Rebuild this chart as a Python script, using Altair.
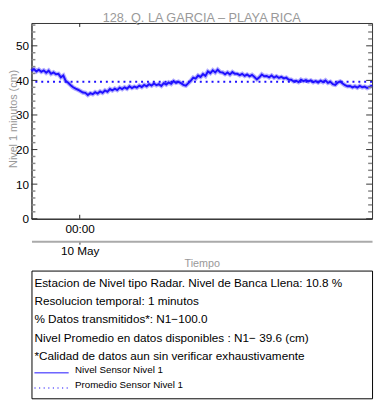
import altair as alt
import pandas as pd

# ---------------- data ----------------
chart_title = "128. Q. LA GARCIA \u2013 PLAYA RICA"
y_title = "Nivel 1 minutos (cm)"
x_title = "Tiempo"
start_time = "2024-05-09T20:36:00"
end_time = "2024-05-10T20:36:00"
midnight = "2024-05-10T00:00:00"

levels = [
    42.7, 43.3, 42.6, 43.1, 42.5, 42.9, 42.2, 42.8, 41.9, 42.3, 41.8, 41.9, 40.9, 41.4, 39.8, 39.3,
    38.6, 38.0, 37.6, 37.3, 36.9, 36.5, 36.4, 35.8, 36.3, 36.0, 36.6, 36.2, 36.8, 36.4, 37.1, 36.7,
    37.5, 37.1, 37.6, 37.2, 37.9, 37.5, 38.0, 37.6, 38.3, 37.8, 38.2, 37.9, 38.5, 38.1, 38.7, 38.3,
    38.9, 38.5, 39.1, 38.6, 38.9, 38.4, 39.2, 38.8, 39.4, 39.0, 39.8, 39.3, 39.6, 39.2, 38.7, 38.5,
    39.2, 39.9, 40.8, 40.5, 41.4, 41.0, 41.8, 41.3, 42.6, 42.1, 42.9, 42.3, 43.1, 42.4, 42.3, 41.8,
    42.3, 41.7, 42.4, 41.9, 41.9, 41.5, 41.9, 41.3, 41.7, 41.2, 41.6, 41.0, 40.3, 40.9, 41.7, 41.2,
    41.3, 40.9, 41.4, 40.8, 41.2, 40.7, 41.0, 40.6, 40.8, 40.2, 40.2, 39.7, 39.9, 39.5, 40.2, 39.8,
    40.1, 39.7, 40.0, 39.5, 39.8, 39.4, 39.9, 39.5, 40.0, 39.3, 39.6, 38.9, 38.7, 39.4, 39.7, 39.1,
    38.6, 38.3, 38.4, 38.0, 38.3, 37.9, 38.4, 38.0, 38.2, 37.8, 38.1, 38.6,
]
mean_level = 39.6
y_domain = [0, 56.6]
major_ticks = [0, 10, 20, 30, 40, 50]
minor_ticks = [v for v in range(0, 57, 2) if v % 10 != 0]

info_lines = [
    "Estacion de Nivel tipo Radar. Nivel de Banca Llena: 10.8 %",
    "Resolucion temporal: 1 minutos",
    "% Datos transmitidos*: N1\u2212100.0",
    "Nivel Promedio en datos disponibles : N1\u2212 39.6 (cm)",
    "*Calidad de datos aun sin verificar exhaustivamente",
]
legend_labels = ["Nivel Sensor Nivel 1", "Promedio Sensor Nivel 1"]

# ---------------- build ----------------
FONT = "Liberation Sans"
W, H = 348, 200
BLUE = "#1f10ff"

times = pd.date_range(start_time, end_time, periods=len(levels))
df = pd.DataFrame({"t": times.strftime("%Y-%m-%dT%H:%M:%S"), "v": levels})
mid_df = pd.DataFrame({"t": [midnight]})

xscale = alt.Scale(domain=[start_time, end_time])
yscale = alt.Scale(domain=y_domain, nice=False, zero=False)
yaxis = alt.Axis(values=major_ticks, format="d", ticks=False, labelPadding=3,
                 labelFontSize=12, labelColor="black", labelFont=FONT,
                 domainColor="#333", grid=False, title=None)

def Y(field="v"):
    return alt.Y(f"{field}:Q", scale=yscale, axis=yaxis)

xaxis_main = alt.Axis(orient="bottom", values=[midnight], format="%H:%M", ticks=False,
                      labelPadding=5, labelFontSize=12, labelColor="black", labelFont=FONT,
                      domainColor="#222", grid=False, title=None)

band = alt.Chart(df).mark_line(color=BLUE, strokeWidth=4.5, opacity=0.35).encode(
    x=alt.X("t:T", scale=xscale, axis=None), y=Y())

line = alt.Chart(df).mark_line(color=BLUE, strokeWidth=2).encode(
    x=alt.X("t:T", scale=xscale, axis=xaxis_main), y=Y())

axis2 = alt.Chart(mid_df).mark_point(opacity=0).encode(
    x=alt.X("t:T", scale=xscale,
            axis=alt.Axis(orient="bottom", values=[midnight], format="%d %b", offset=23,
                          domainColor="#aaa", domainWidth=2, tickColor="#333", tickSize=3,
                          labelPadding=2, labelFontSize=12, labelColor="black", labelFont=FONT,
                          grid=False, title=x_title, titleColor="#999", titleFontSize=11,
                          titleFontWeight="normal", titleFont=FONT, titlePadding=1)),
)

mean_rule = alt.Chart(pd.DataFrame({"v": [mean_level]})).mark_rule(
    color=BLUE, strokeWidth=2, strokeDash=[2, 4]).encode(y=Y())

maj_df = pd.DataFrame({"v": major_ticks})
min_df = pd.DataFrame({"v": minor_ticks})
tick_layers = [
    alt.Chart(maj_df).mark_rule(color="#333", strokeWidth=1).encode(
        y=Y(), x=alt.value(0), x2=alt.value(6)),
    alt.Chart(maj_df).mark_rule(color="#333", strokeWidth=1).encode(
        y=Y(), x=alt.value(W), x2=alt.value(W - 6)),
    alt.Chart(min_df).mark_rule(color="#888", strokeWidth=1.5).encode(
        y=Y(), x=alt.value(0), x2=alt.value(4)),
    alt.Chart(min_df).mark_rule(color="#888", strokeWidth=1.5).encode(
        y=Y(), x=alt.value(W), x2=alt.value(W - 4)),
    alt.Chart(mid_df).mark_rule(color="#222", strokeWidth=1).encode(
        x=alt.X("t:T", scale=xscale, axis=None), y=alt.value(0), y2=alt.value(4)),
    alt.Chart(mid_df).mark_rule(color="#222", strokeWidth=1).encode(
        x=alt.X("t:T", scale=xscale, axis=None), y=alt.value(H - 4), y2=alt.value(H)),
]

title_mark = alt.Chart(pd.DataFrame({"s": [chart_title]})).mark_text(
    font=FONT, fontSize=13, color="#999", align="center", baseline="alphabetic").encode(
    text="s:N", x=alt.value(W / 2), y=alt.value(-0.8))

ytitle_mark = alt.Chart(pd.DataFrame({"s": [y_title]})).mark_text(
    font=FONT, fontSize=11, color="#999", align="center", baseline="top", angle=270).encode(
    text="s:N", x=alt.value(-24), y=alt.value(98))

box = alt.Chart(pd.DataFrame({"a": [0]})).mark_rect(
    fill="white", stroke="black", strokeWidth=1).encode(
    x=alt.value(0.5), x2=alt.value(W + 0.5), y=alt.value(253.5), y2=alt.value(384))

info_y = [266, 284.5, 303, 321.5, 340]
info_layers = [
    alt.Chart(pd.DataFrame({"s": [s]})).mark_text(
        font=FONT, fontSize=12, color="black", align="left", baseline="middle").encode(
        text="s:N", x=alt.value(3), y=alt.value(yy))
    for s, yy in zip(info_lines, info_y)
]
leg_y = [354.5, 370]
legend_layers = [
    alt.Chart(pd.DataFrame({"a": [0]})).mark_rule(color=BLUE, strokeWidth=1).encode(
        x=alt.value(3), x2=alt.value(38), y=alt.value(leg_y[0] + 3)),
    alt.Chart(pd.DataFrame({"a": [0]})).mark_rule(color=BLUE, strokeWidth=1.2,
                                                   strokeDash=[1.2, 3.5]).encode(
        x=alt.value(3), x2=alt.value(38), y=alt.value(leg_y[1] + 3)),
]
for s, yy in zip(legend_labels, leg_y):
    legend_layers.append(
        alt.Chart(pd.DataFrame({"s": [s]})).mark_text(
            font=FONT, fontSize=10, color="black", align="left", baseline="middle").encode(
            text="s:N", x=alt.value(44.5), y=alt.value(yy)))

chart = alt.layer(
    band, line, axis2, mean_rule, *tick_layers, title_mark, ytitle_mark, box,
    *info_layers, *legend_layers
).resolve_axis(x="independent").properties(
    width=W, height=H,
    autosize=alt.AutoSizeParams(type="none"),
    padding={"left": 24, "top": 11, "right": 2, "bottom": 185},
).configure_view(stroke="#333", strokeWidth=1)

chart.save("out.html", embed_options={"renderer": "svg", "actions": False})
